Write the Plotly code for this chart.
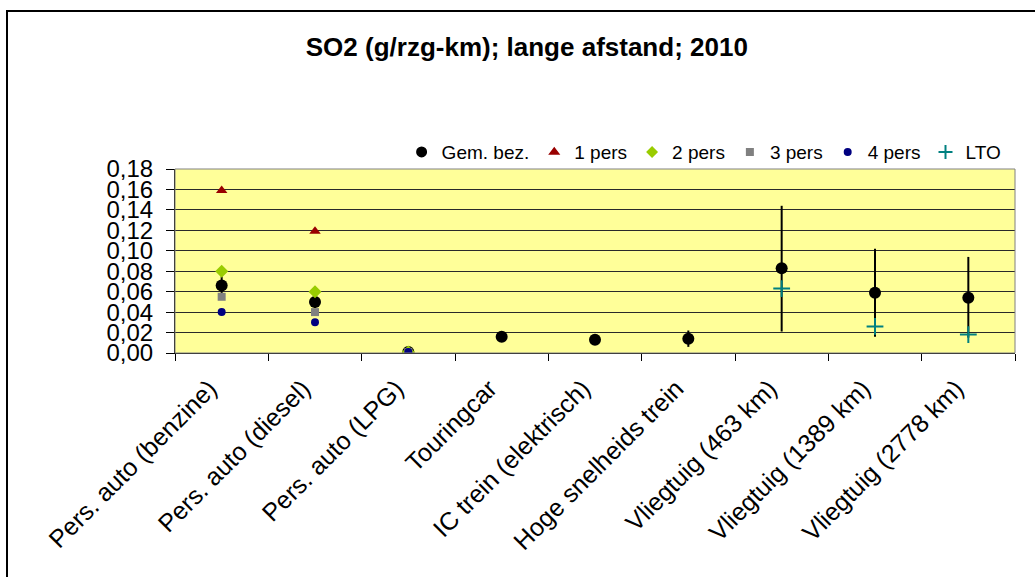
import plotly.graph_objects as go

categories = [
    "Pers. auto (benzine)", "Pers. auto (diesel)", "Pers. auto (LPG)",
    "Touringcar", "IC trein (elektrisch)", "Hoge snelheids trein",
    "Vliegtuig (463 km)", "Vliegtuig (1389 km)", "Vliegtuig (2778 km)",
]

# average occupancy values with spread (upper / lower)
gem_bez = [0.066, 0.050, 0.001, 0.016, 0.013, 0.014, 0.083, 0.059, 0.054]
gem_err_plus = [0.009, 0.005, 0, 0, 0.004, 0.008, 0.061, 0.043, 0.040]
gem_err_minus = [0.011, 0.006, 0, 0, 0.005, 0.008, 0.062, 0.043, 0.039]

# per-occupancy values for passenger cars
car_cats = categories[:3]
pers_1 = [0.159, 0.119, 0.001]
pers_2 = [0.080, 0.060, 0.001]
pers_3 = [0.055, 0.040, 0.001]
pers_4 = [0.040, 0.030, 0.001]

# landing/take-off cycle share for flights
lto_cats = categories[6:]
lto = [0.063, 0.026, 0.018]

y_ticks = [0.00, 0.02, 0.04, 0.06, 0.08, 0.10, 0.12, 0.14, 0.16, 0.18]

FONT = "Arial, Liberation Sans, sans-serif"

fig = go.Figure()

fig.add_trace(go.Scatter(
    x=categories, y=gem_bez, mode="markers", name="Gem. bez.", showlegend=False,
    marker=dict(symbol="circle", size=12, color="black"),
    error_y=dict(type="data", symmetric=False, array=gem_err_plus,
                 arrayminus=gem_err_minus, color="black", thickness=2, width=0),
))
fig.add_trace(go.Scatter(
    x=car_cats, y=pers_1, mode="markers", name="1 pers", showlegend=False,
    marker=dict(symbol="triangle-up", size=10, color="#990000"),
))
fig.add_trace(go.Scatter(
    x=car_cats, y=pers_2, mode="markers", name="2 pers", showlegend=False,
    marker=dict(symbol="diamond", size=10, color="#99CC00"),
))
fig.add_trace(go.Scatter(
    x=car_cats, y=pers_3, mode="markers", name="3 pers", showlegend=False,
    marker=dict(symbol="square", size=8, color="#808080"),
))
fig.add_trace(go.Scatter(
    x=car_cats, y=pers_4, mode="markers", name="4 pers", showlegend=False,
    marker=dict(symbol="circle", size=8, color="#000080"),
))
fig.add_trace(go.Scatter(
    x=lto_cats, y=lto, mode="markers", name="LTO", showlegend=False,
    marker=dict(symbol="cross-thin", size=12, color="#008080",
                line=dict(width=2, color="#008080")),
))

# compact legend entries
legend_items = [
    ("Gem. bez.", "circle", 9, "black"),
    ("1 pers", "triangle-up", 7, "#990000"),
    ("2 pers", "diamond", 7, "#99CC00"),
    ("3 pers", "square", 6, "#808080"),
    ("4 pers", "circle", 6, "#000080"),
    ("LTO", "cross-thin", 10, "#008080"),
]
for name, sym, size, col in legend_items:
    fig.add_trace(go.Scatter(
        x=[None], y=[None], mode="markers", name=name,
        marker=dict(symbol=sym, size=size, color=col, line=dict(width=2, color=col)),
    ))

# outer chart frame
fig.add_shape(type="rect", xref="paper", yref="paper",
              x0=-0.2, x1=1.2, y0=-1.5, y1=1.859,
              line=dict(color="black", width=2), layer="below")
# plot-area frame
fig.add_shape(type="rect", xref="paper", yref="paper",
              x0=0, x1=1, y0=0, y1=1,
              line=dict(color="#808080", width=1), layer="above")

fig.update_layout(
    width=1035, height=577,
    margin=dict(l=175, r=20, t=169, b=224),
    paper_bgcolor="white",
    plot_bgcolor="#FFFF99",
    separators=", ",
    font=dict(family=FONT, size=24, color="black"),
    title=dict(text="<b>SO2 (g/rzg-km); lange afstand; 2010</b>",
               x=0.509, xanchor="center", y=0.918, yanchor="middle",
               font=dict(family=FONT, size=26, color="black")),
    legend=dict(orientation="h", x=0.99, xanchor="right", y=1.092,
                yanchor="middle", font=dict(family=FONT, size=19),
                bgcolor="rgba(0,0,0,0)", itemwidth=30, tracegroupgap=0),
    showlegend=True,
)

fig.update_xaxes(
    type="category", categoryorder="array", categoryarray=categories,
    range=[-0.5, len(categories) - 0.5],
    tickson="boundaries", ticks="outside", ticklen=7, tickcolor="black",
    tickangle=-45, tickfont=dict(family=FONT, size=25),
    ticklabelshift=-12, ticklabelstandoff=10,
    showgrid=False, showline=True, linecolor="black", linewidth=1,
    zeroline=False,
)
fig.update_yaxes(
    range=[0, 0.18], tickvals=y_ticks, tickformat=".2f",
    ticks="outside", ticklen=8, tickcolor="black",
    tickfont=dict(family=FONT, size=24), ticklabelstandoff=8,
    showgrid=True, gridcolor="#2a2a2a", gridwidth=1,
    showline=True, linecolor="black", linewidth=1, zeroline=False,
)

fig.write_html("out.html")
